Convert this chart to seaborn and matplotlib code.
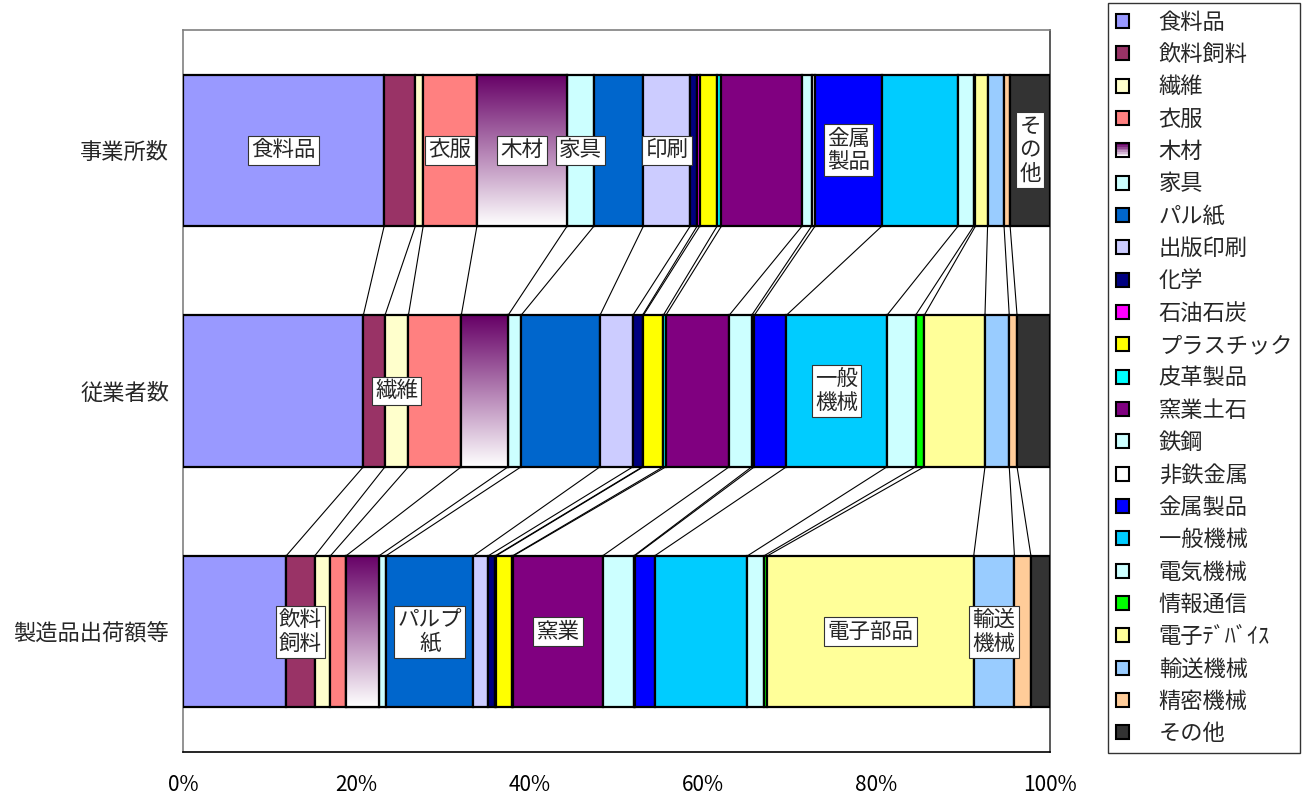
import numpy as np
import pandas as pd
import seaborn as sns
import matplotlib.pyplot as plt
from matplotlib.patches import Rectangle, Patch
from matplotlib.legend_handler import HandlerBase
from matplotlib.colors import to_rgb

# 業種（凡例の順）
industries = ["食料品", "飲料飼料", "繊維", "衣服", "木材", "家具", "パル紙",
              "出版印刷", "化学", "石油石炭", "プラスチック", "皮革製品", "窯業土石",
              "鉄鋼", "非鉄金属", "金属製品", "一般機械", "電気機械", "情報通信",
              "電子ﾃﾞﾊﾞｲｽ", "輸送機械", "精密機械", "その他"]

rows = ["事業所数", "従業者数", "製造品出荷額等"]

# 構成比 (%)
share_est = [23.2, 3.6, 0.9, 6.2, 10.4, 3.1, 5.7, 5.4, 0.8, 0.3, 2.0, 0.5, 9.3,
             1.1, 0.4, 7.7, 8.8, 1.8, 0.2, 1.4, 1.9, 0.7, 4.6]
share_emp = [20.8, 2.5, 2.7, 6.1, 5.4, 1.5, 9.1, 3.8, 1.1, 0.1, 2.3, 0.3, 7.3,
             2.6, 0.3, 3.7, 11.6, 3.3, 1.0, 7.0, 2.8, 0.9, 3.8]
share_ship = [11.9, 3.3, 1.8, 1.8, 3.8, 0.8, 10.1, 1.7, 0.8, 0.1, 1.9, 0.1, 10.3,
              3.6, 0.1, 2.3, 10.7, 1.9, 0.4, 23.8, 4.7, 1.9, 2.2]

colors = ["#9999FF", "#993366", "#FFFFCC", "#FF8080", "#660066", "#CCFFFF", "#0066CC",
          "#CCCCFF", "#000080", "#FF00FF", "#FFFF00", "#00FFFF", "#800080",
          "#CCFFFF", "#FFFFFF", "#0000FF", "#00CCFF", "#CCFFFF", "#00FF00",
          "#FFFF99", "#99CCFF", "#FFCC99", "#333333"]
WOOD = 4

# バー内ラベル: (行, 業種番号, 表示テキスト)
bar_labels = [(0, 0, "食料品"), (0, 3, "衣服"), (0, 4, "木材"), (0, 5, "家具"),
              (0, 7, "印刷"), (0, 15, "金属\n製品"), (0, 22, "そ\nの\n他"),
              (1, 2, "繊維"), (1, 16, "一般\n機械"),
              (2, 1, "飲料\n飼料"), (2, 6, "パルプ\n紙"), (2, 12, "窯業"),
              (2, 19, "電子部品"), (2, 20, "輸送\n機械")]

df = pd.DataFrame({"業種": industries, rows[0]: share_est,
                   rows[1]: share_emp, rows[2]: share_ship})

sns.set_theme(style="white")
plt.rcParams["font.family"] = ["Noto Sans CJK JP", "DejaVu Sans"]

fig = plt.figure(figsize=(13.13, 8), dpi=100)
ax = fig.add_axes([183 / 1313, 1 - 752 / 800, (1050 - 183) / 1313, (752 - 30) / 800])

h = 0.63
grad = np.linspace(0, 1, 256)[:, None, None]
wood_rgb = np.array(to_rgb(colors[WOOD]))
grad_img = wood_rgb * (1 - grad) + np.ones(3) * grad

lefts = {}
for r, row in enumerate(rows):
    vals = df[row].to_numpy()
    left = np.concatenate([[0], np.cumsum(vals)[:-1]])
    lefts[row] = np.cumsum(vals)
    bars = ax.barh(np.full(len(vals), r), vals, left=left, height=h,
                   color=colors, edgecolor="black", linewidth=1.6, zorder=3)
    wb = bars[WOOD]
    im = ax.imshow(grad_img, extent=(left[WOOD], left[WOOD] + vals[WOOD], r + h / 2, r - h / 2),
                   aspect="auto", zorder=3.5, interpolation="bilinear")
    im.set_clip_path(wb)
    ax.add_patch(Rectangle((left[WOOD], r - h / 2), vals[WOOD], h, fill=False,
                           edgecolor="black", linewidth=1.6, zorder=4))

# 系列線
for r in range(len(rows) - 1):
    a = lefts[rows[r]][:-1]
    b = lefts[rows[r + 1]][:-1]
    for xa, xb in zip(a, b):
        ax.plot([xa, xb], [r + h / 2, r + 1 - h / 2], color="black", lw=0.8, zorder=2)

for r, k, txt in bar_labels:
    vals = df[rows[r]].to_numpy()
    xc = vals[:k].sum() + vals[k] / 2
    ax.text(xc, r, txt, ha="center", va="center", fontsize=15.5, zorder=6,
            linespacing=1.1,
            bbox=dict(boxstyle="square,pad=0.15", fc="white", ec="#333333", lw=0.8))

ax.set_xlim(0, 100)
ax.set_ylim(2.5, -0.5)
ax.set_yticks(range(len(rows)))
ax.set_yticklabels(rows, fontsize=16)
ax.set_xticks(np.arange(0, 101, 20))
ax.set_xticklabels([f"{v}%" for v in range(0, 101, 20)], fontsize=15)
ax.tick_params(axis="x", direction="in", length=6, width=1, pad=16, colors="black")
ax.tick_params(axis="y", length=0, pad=10)
for side in ["top", "left"]:
    ax.spines[side].set_color("#808080")
ax.spines["right"].set_color("#404040")
ax.spines["bottom"].set_color("black")
for s in ax.spines.values():
    s.set_linewidth(1.2)


class GradHandler(HandlerBase):
    def create_artists(self, legend, orig_handle, xdescent, ydescent, width, height, fontsize, trans):
        arts = []
        n = 8
        for i in range(n):
            t = i / (n - 1)
            c = wood_rgb * (1 - t) + np.ones(3) * t
            arts.append(Rectangle((-xdescent, -ydescent + height * (1 - (i + 1) / n)), width, height / n,
                                  fc=c, ec="none", transform=trans))
        arts.append(Rectangle((-xdescent, -ydescent), width, height, fill=False,
                              ec="black", lw=1.5, transform=trans))
        return arts


handles = [Patch(facecolor=c, edgecolor="black", linewidth=1.5) for c in colors]
leg = fig.legend(handles, industries, loc="upper left", bbox_to_anchor=(1108 / 1313, 1 - 3 / 800),
                 fontsize=16, frameon=True, fancybox=False, edgecolor="black",
                 handlelength=0.58, handleheight=0.58, handletextpad=1.35,
                 labelspacing=0.42, borderpad=0.35, borderaxespad=0,
                 handler_map={handles[WOOD]: GradHandler()})
leg.get_frame().set_linewidth(1.0)

fig.savefig("out.png", dpi=100, facecolor="white")
